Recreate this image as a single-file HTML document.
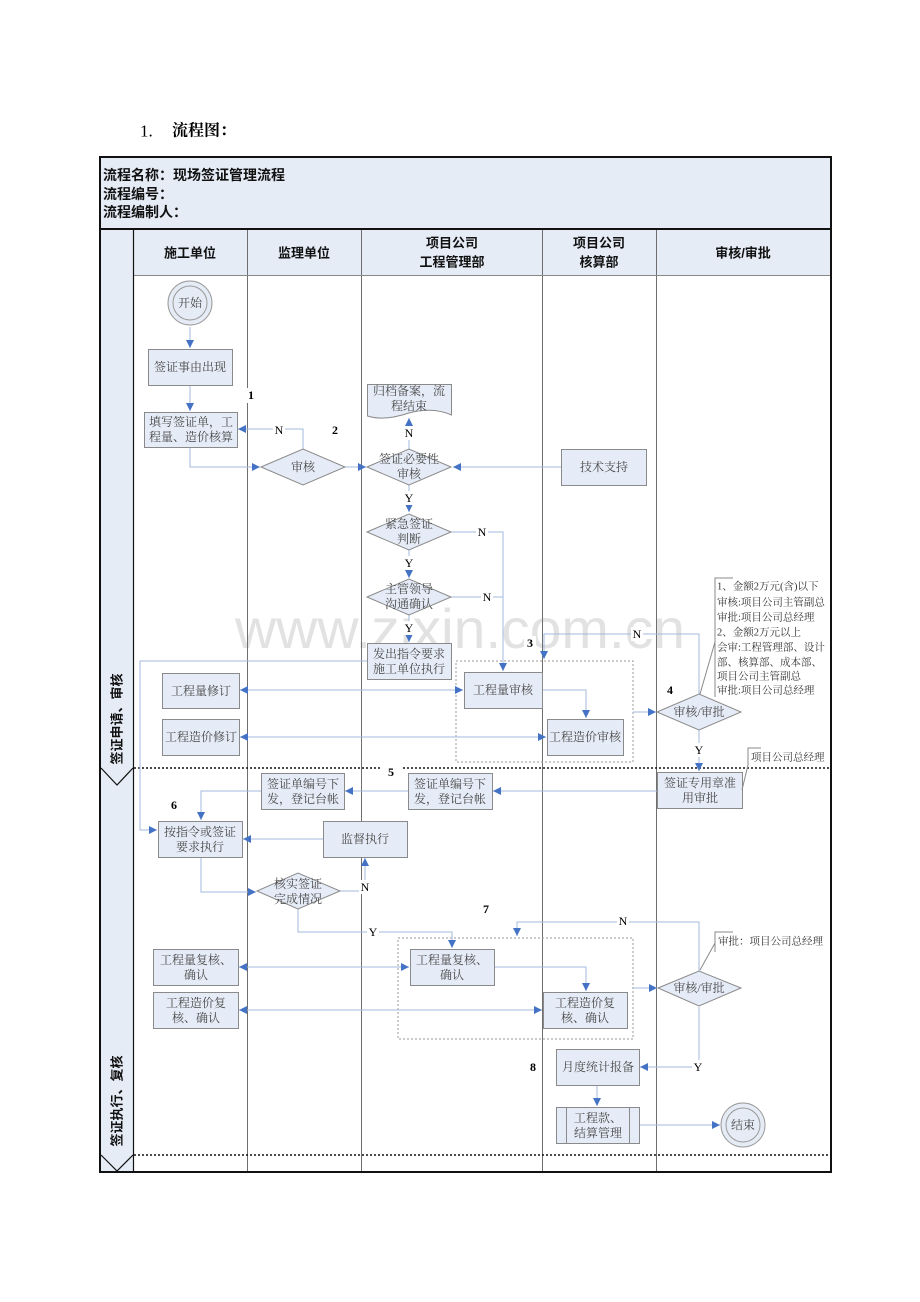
<!DOCTYPE html>
<html><head><meta charset="utf-8"><style>
html,body{margin:0;padding:0;background:#fff;}
svg{display:block;}
.bx{fill:#e6ecf7;stroke:#8a8a8a;stroke-width:1;}
.ln{fill:none;stroke:#a3bbdf;stroke-width:1;}
.t{font-family:"Liberation Serif","Noto Serif CJK SC",serif;font-size:12px;fill:#474747;text-anchor:middle;dominant-baseline:central;}
.n{font-family:"Liberation Serif","Noto Serif CJK SC",serif;font-size:12px;fill:#000;text-anchor:middle;dominant-baseline:central;}
.nb{font-family:"Liberation Serif",serif;font-size:12px;font-weight:bold;fill:#000;text-anchor:middle;dominant-baseline:central;}
.h{font-family:"Liberation Sans","Noto Sans CJK SC",sans-serif;font-size:13px;font-weight:bold;fill:#111;text-anchor:middle;dominant-baseline:central;}
.an{font-family:"Liberation Serif","Noto Serif CJK SC",serif;font-size:10.5px;fill:#333;dominant-baseline:central;}
.br{fill:none;stroke:#8a8a8a;stroke-width:1;}
</style></head><body>
<svg width="920" height="1302" viewBox="0 0 920 1302" xmlns="http://www.w3.org/2000/svg">
<defs>
<marker id="a" viewBox="0 0 10 10" refX="10" refY="5" markerWidth="8" markerHeight="8" markerUnits="userSpaceOnUse" orient="auto-start-reverse"><path d="M0,0 L10,5 L0,10 z" fill="#4472c4"/></marker>
</defs>
<rect x="0" y="0" width="920" height="1302" fill="#fff"/>
<!-- title -->
<text x="140" y="131" font-family="Liberation Serif" font-size="17" fill="#000" dominant-baseline="central">1.</text>
<text x="172" y="131" font-family="'Liberation Serif','Noto Serif CJK SC',serif" font-size="16" font-weight="bold" fill="#000" dominant-baseline="central">流程图：</text>

<!-- header box -->
<rect x="100" y="157" width="731" height="72" fill="#e6ecf6" stroke="#111" stroke-width="2"/>
<g font-family="'Liberation Sans','Noto Sans CJK SC',sans-serif" font-size="14" font-weight="bold" fill="#111" dominant-baseline="central">
<text x="103" y="175">流程名称：现场签证管理流程</text>
<text x="103" y="194">流程编号：</text>
<text x="103" y="212">流程编制人：</text>
</g>

<!-- lane header and left strip -->
<rect x="133" y="230" width="698" height="45" fill="#e6ecf6"/>
<rect x="100" y="230" width="33" height="942" fill="#e6ecf6"/>

<!-- watermark -->
<text x="235" y="648" font-family="'Liberation Sans',sans-serif" font-size="56" fill="#e2e2e2" textLength="450" lengthAdjust="spacingAndGlyphs">www.zixin.com.cn</text>

<!-- lane lines -->
<g stroke="#6e6e6e" stroke-width="1">
<line x1="247.5" y1="230" x2="247.5" y2="1172"/>
<line x1="361.5" y1="230" x2="361.5" y2="1172"/>
<line x1="542.5" y1="230" x2="542.5" y2="1172"/>
<line x1="656.5" y1="230" x2="656.5" y2="1172"/>
<line x1="133" y1="275.5" x2="831" y2="275.5" stroke="#888"/>
</g>
<line x1="133.5" y1="230" x2="133.5" y2="1172" stroke="#111" stroke-width="1.2"/>
<!-- chevrons -->
<polyline points="101,768 117,785 133,768" fill="none" stroke="#111" stroke-width="1.2"/>
<polyline points="101,1155 117,1171 133,1155" fill="none" stroke="#111" stroke-width="1.2"/>
<!-- dotted separators -->
<g stroke="#111" stroke-width="1.6" stroke-dasharray="2,2">
<line x1="134" y1="768" x2="380" y2="768"/>
<line x1="403" y1="768" x2="831" y2="768"/>
<line x1="134" y1="1155" x2="831" y2="1155"/>
</g>
<!-- main border -->
<rect x="100" y="229" width="731" height="943" fill="none" stroke="#111" stroke-width="2"/>

<!-- lane headers text -->
<text class="h" x="190" y="253">施工单位</text>
<text class="h" x="304" y="253">监理单位</text>
<text class="h" x="452" y="243">项目公司</text>
<text class="h" x="452" y="262">工程管理部</text>
<text class="h" x="599" y="243">项目公司</text>
<text class="h" x="599" y="262">核算部</text>
<text class="h" x="743" y="253">审核/审批</text>
<text class="h" transform="translate(117,719) rotate(-90)">签证申请、审核</text>
<text class="h" transform="translate(117,1101) rotate(-90)">签证执行、复核</text>

<!-- dashed groups -->
<rect x="456" y="661" width="177" height="101" fill="none" stroke="#999" stroke-dasharray="2,2"/>
<rect x="398" y="938" width="235" height="101" fill="none" stroke="#999" stroke-dasharray="2,2"/>

<!-- connectors -->
<g class="ln">
<polyline points="190,327 190,348" marker-end="url(#a)"/>
<polyline points="190,385 190,411" marker-end="url(#a)"/>
<polyline points="190,447 190,467 260,467" marker-end="url(#a)"/>
<polyline points="303,449 303,429 238,429" marker-end="url(#a)"/>
<polyline points="345,467 366,467" marker-end="url(#a)"/>
<polyline points="409,449 409,418" marker-end="url(#a)"/>
<polyline points="561,467 453,467" marker-end="url(#a)"/>
<polyline points="409,485 409,512" marker-end="url(#a)"/>
<polyline points="451,532 503,532 503,671" marker-end="url(#a)"/>
<polyline points="409,550 409,578" marker-end="url(#a)"/>
<polyline points="451,597 503,597"/>
<polyline points="409,615 409,642" marker-end="url(#a)"/>
<polyline points="367,661 140,661 140,830 157,830" marker-end="url(#a)"/>
<polyline points="240,690 463,690" marker-start="url(#a)" marker-end="url(#a)"/>
<polyline points="240,737 546,737" marker-start="url(#a)" marker-end="url(#a)"/>
<polyline points="542,690 586,690 586,718" marker-end="url(#a)"/>
<polyline points="633,712 656,712" marker-end="url(#a)"/>
<polyline points="699,694 699,634 544,634 544,659" marker-end="url(#a)"/>
<polyline points="699,729 699,771" marker-end="url(#a)"/>
<polyline points="657,791 493,791" marker-end="url(#a)"/>
<polyline points="408,791 345,791" marker-end="url(#a)"/>
<polyline points="261,791 201,791 201,820" marker-end="url(#a)"/>
<polyline points="323,839 243,839" marker-end="url(#a)"/>
<polyline points="201,857 201,892 256,892" marker-end="url(#a)"/>
<polyline points="340,891 365,891 365,858" marker-end="url(#a)"/>
<polyline points="298,909 298,932 452,932 452,948" marker-end="url(#a)"/>
<polyline points="699,971 699,922 517,922 517,936" marker-end="url(#a)"/>
<polyline points="239,967 409,967" marker-start="url(#a)" marker-end="url(#a)"/>
<polyline points="239,1010 542,1010" marker-start="url(#a)" marker-end="url(#a)"/>
<polyline points="494,967 586,967 586,991" marker-end="url(#a)"/>
<polyline points="633,988 657,988" marker-end="url(#a)"/>
<polyline points="699,1007 699,1067 640,1067" marker-end="url(#a)"/>
<polyline points="597,1085 597,1106" marker-end="url(#a)"/>
<polyline points="639,1125 720,1125" marker-end="url(#a)"/>
</g>

<!-- circles -->
<circle cx="190" cy="303" r="22" fill="#e6ecf6" stroke="#999"/>
<circle cx="190" cy="303" r="17" fill="#e6ecf6" stroke="#999"/>
<text class="t" x="190" y="303">开始</text>
<circle cx="743" cy="1125" r="22" fill="#e6ecf6" stroke="#999"/>
<circle cx="743" cy="1125" r="17" fill="#e6ecf6" stroke="#999"/>
<text class="t" x="743" y="1125">结束</text>

<!-- boxes -->
<rect class="bx" x="148.5" y="349.5" width="84" height="36"/>
<text class="t" x="190" y="367">签证事由出现</text>
<rect class="bx" x="144.5" y="412.5" width="93" height="35"/>
<text class="t" x="191" y="422">填写签证单，工</text>
<text class="t" x="191" y="437">程量、造价核算</text>
<rect class="bx" x="561.5" y="449.5" width="85" height="36"/>
<text class="t" x="604" y="467">技术支持</text>
<rect class="bx" x="367.5" y="643.5" width="84" height="36"/>
<text class="t" x="409" y="654">发出指令要求</text>
<text class="t" x="409" y="669">施工单位执行</text>
<rect class="bx" x="162.5" y="673.5" width="77" height="35"/>
<text class="t" x="201" y="691">工程量修订</text>
<rect class="bx" x="162.5" y="719.5" width="77" height="36"/>
<text class="t" x="201" y="737">工程造价修订</text>
<rect class="bx" x="464.5" y="672.5" width="78" height="36"/>
<text class="t" x="503" y="690">工程量审核</text>
<rect class="bx" x="547.5" y="719.5" width="76" height="36"/>
<text class="t" x="585" y="737">工程造价审核</text>
<rect class="bx" x="657.5" y="772.5" width="85" height="36"/>
<text class="t" x="700" y="783">签证专用章准</text>
<text class="t" x="700" y="798">用审批</text>
<rect class="bx" x="261.5" y="773.5" width="83" height="36"/>
<text class="t" x="303" y="784">签证单编号下</text>
<text class="t" x="303" y="799">发，登记台帐</text>
<rect class="bx" x="408.5" y="773.5" width="84" height="36"/>
<text class="t" x="450" y="784">签证单编号下</text>
<text class="t" x="450" y="799">发，登记台帐</text>
<rect class="bx" x="158.5" y="821.5" width="84" height="36"/>
<text class="t" x="200" y="832">按指令或签证</text>
<text class="t" x="200" y="847">要求执行</text>
<rect class="bx" x="323.5" y="821.5" width="84" height="36"/>
<text class="t" x="365" y="839">监督执行</text>
<rect class="bx" x="153.5" y="949.5" width="85" height="36"/>
<text class="t" x="196" y="960">工程量复核、</text>
<text class="t" x="196" y="975">确认</text>
<rect class="bx" x="153.5" y="992.5" width="85" height="36"/>
<text class="t" x="196" y="1003">工程造价复</text>
<text class="t" x="196" y="1018">核、确认</text>
<rect class="bx" x="410.5" y="949.5" width="84" height="36"/>
<text class="t" x="452" y="960">工程量复核、</text>
<text class="t" x="452" y="975">确认</text>
<rect class="bx" x="543.5" y="992.5" width="84" height="36"/>
<text class="t" x="585" y="1003">工程造价复</text>
<text class="t" x="585" y="1018">核、确认</text>
<rect class="bx" x="556.5" y="1049.5" width="83" height="36"/>
<text class="t" x="598" y="1067">月度统计报备</text>
<rect class="bx" x="556.5" y="1107.5" width="83" height="36"/>
<line x1="566.5" y1="1107.5" x2="566.5" y2="1143.5" stroke="#8a8a8a"/>
<line x1="629.5" y1="1107.5" x2="629.5" y2="1143.5" stroke="#8a8a8a"/>
<text class="t" x="598" y="1118">工程款、</text>
<text class="t" x="598" y="1133">结算管理</text>

<!-- document -->
<path class="bx" d="M367.5,384.5 L451.5,384.5 L451.5,415 C438,409 424,409 409,413 C394,418 380,420 367.5,416 Z"/>
<text class="t" x="409" y="391">归档备案，流</text>
<text class="t" x="409" y="406">程结束</text>

<!-- diamonds -->
<polygon class="bx" points="261,467 303,449 345,467 303,485"/>
<text class="t" x="303" y="467">审核</text>
<polygon class="bx" points="367,467 409,449 451,467 409,485"/>
<text class="t" x="409" y="459">签证必要性</text>
<text class="t" x="409" y="474">审核</text>
<polygon class="bx" points="367,532 409,514 451,532 409,550"/>
<text class="t" x="409" y="524">紧急签证</text>
<text class="t" x="409" y="539">判断</text>
<polygon class="bx" points="367,597 409,579 451,597 409,615"/>
<text class="t" x="409" y="589">主管领导</text>
<text class="t" x="409" y="604">沟通确认</text>
<polygon class="bx" points="657,712 699,694 741,712 699,730"/>
<text class="t" x="699" y="712">审核/审批</text>
<polygon class="bx" points="257,891 298,873 340,891 298,909"/>
<text class="t" x="298" y="884">核实签证</text>
<text class="t" x="298" y="899">完成情况</text>
<polygon class="bx" points="658,988 699,971 741,988 699,1006"/>
<text class="t" x="699" y="988">审核/审批</text>

<!-- Y/N labels -->
<g fill="#fff">
<rect x="273" y="423" width="12" height="14"/>
<rect x="403" y="426" width="12" height="14"/>
<rect x="403" y="491" width="12" height="14"/>
<rect x="476" y="525" width="12" height="14"/>
<rect x="403" y="556" width="12" height="14"/>
<rect x="481" y="590" width="12" height="14"/>
<rect x="403" y="621" width="12" height="14"/>
<rect x="631" y="627" width="12" height="14"/>
<rect x="693" y="743" width="12" height="14"/>
<rect x="359" y="880" width="12" height="14"/>
<rect x="367" y="925" width="12" height="14"/>
<rect x="617" y="914" width="12" height="14"/>
<rect x="692" y="1060" width="12" height="14"/>
</g>
<text class="n" x="279" y="430">N</text>
<text class="n" x="409" y="433">N</text>
<text class="n" x="409" y="498">Y</text>
<text class="n" x="482" y="532">N</text>
<text class="n" x="409" y="563">Y</text>
<text class="n" x="487" y="597">N</text>
<text class="n" x="409" y="628">Y</text>
<text class="n" x="637" y="634">N</text>
<text class="n" x="699" y="750">Y</text>
<text class="n" x="365" y="887">N</text>
<text class="n" x="373" y="932">Y</text>
<text class="n" x="623" y="921">N</text>
<text class="n" x="698" y="1067">Y</text>

<!-- number labels -->
<g fill="#fff">
<rect x="245" y="388" width="12" height="15"/>
<rect x="329" y="423" width="12" height="15"/>
<rect x="524" y="636" width="12" height="15"/>
<rect x="664" y="683" width="12" height="15"/>
<rect x="385" y="765" width="12" height="15"/>
<rect x="168" y="798" width="12" height="15"/>
<rect x="480" y="902" width="12" height="15"/>
<rect x="527" y="1060" width="12" height="15"/>
</g>
<text class="nb" x="251" y="395">1</text>
<text class="nb" x="335" y="430">2</text>
<text class="nb" x="530" y="643">3</text>
<text class="nb" x="670" y="690">4</text>
<text class="nb" x="391" y="772">5</text>
<text class="nb" x="174" y="805">6</text>
<text class="nb" x="486" y="909">7</text>
<text class="nb" x="533" y="1067">8</text>

<!-- annotations -->
<polyline class="br" points="733,578 715,578 715,697"/>
<line class="br" x1="715" y1="642" x2="700" y2="694"/>
<text class="an" x="717" y="587">1、金额2万元(含)以下</text>
<text class="an" x="717" y="603">审核:项目公司主管副总</text>
<text class="an" x="717" y="618">审批:项目公司总经理</text>
<text class="an" x="717" y="633">2、金额2万元以上</text>
<text class="an" x="717" y="648">会审:工程管理部、设计</text>
<text class="an" x="717" y="663">部、核算部、成本部、</text>
<text class="an" x="717" y="677">项目公司主管副总</text>
<text class="an" x="717" y="691">审批:项目公司总经理</text>

<polyline class="br" points="761,748 748,748 748,765"/>
<line class="br" x1="748" y1="765" x2="742" y2="790"/>
<text class="an" x="751" y="758">项目公司总经理</text>

<polyline class="br" points="733,932 715,932 715,952"/>
<line class="br" x1="715" y1="943" x2="700" y2="970"/>
<text class="an" x="718" y="942">审批：项目公司总经理</text>
</svg>
</body></html>
